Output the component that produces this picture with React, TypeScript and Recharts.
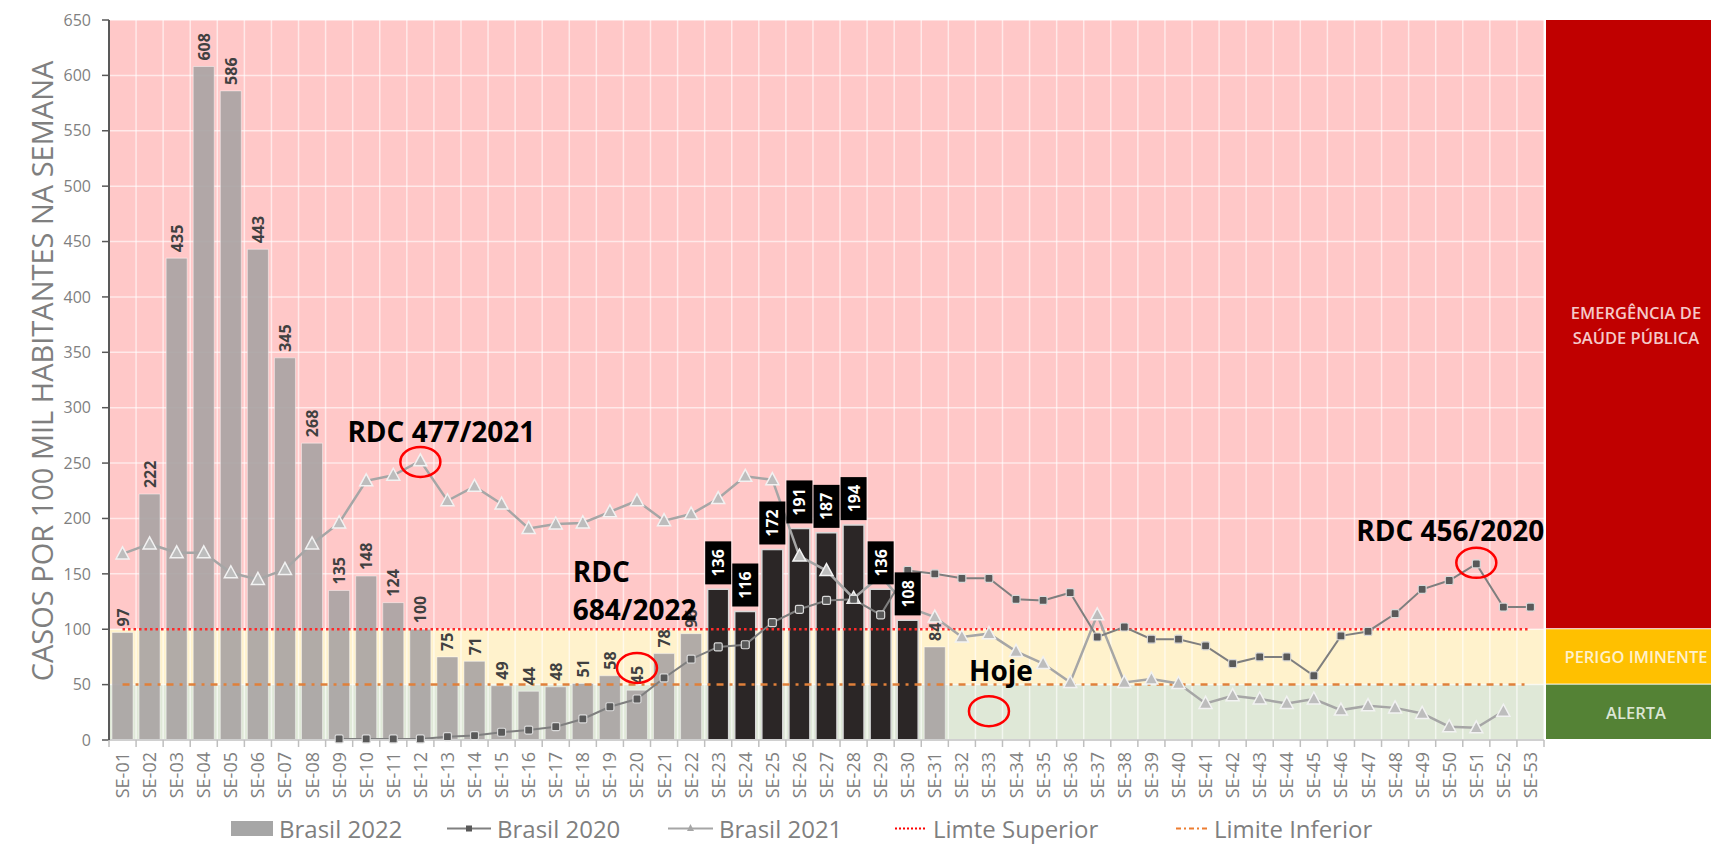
import {
  ComposedChart, Bar, Line, Scatter, XAxis, YAxis, CartesianGrid, ReferenceArea,
  ReferenceLine, ReferenceDot, Legend, Cell,
} from 'recharts';

const weeks = [
  'SE-01', 'SE-02', 'SE-03', 'SE-04', 'SE-05', 'SE-06', 'SE-07', 'SE-08', 'SE-09', 'SE-10',
  'SE-11', 'SE-12', 'SE-13', 'SE-14', 'SE-15', 'SE-16', 'SE-17', 'SE-18', 'SE-19', 'SE-20',
  'SE-21', 'SE-22', 'SE-23', 'SE-24', 'SE-25', 'SE-26', 'SE-27', 'SE-28', 'SE-29', 'SE-30',
  'SE-31', 'SE-32', 'SE-33', 'SE-34', 'SE-35', 'SE-36', 'SE-37', 'SE-38', 'SE-39', 'SE-40',
  'SE-41', 'SE-42', 'SE-43', 'SE-44', 'SE-45', 'SE-46', 'SE-47', 'SE-48', 'SE-49', 'SE-50',
  'SE-51', 'SE-52', 'SE-53',
];

const brasil2022 = [
  97, 222, 435, 608, 586, 443, 345, 268, 135, 148,
  124, 100, 75, 71, 49, 44, 48, 51, 58, 45,
  78, 96, 136, 116, 172, 191, 187, 194, 136, 108,
  84, null, null, null, null, null, null, null, null, null,
  null, null, null, null, null, null, null, null, null, null,
  null, null, null,
];

const brasil2020 = [
  null, null, null, null, null, null, null, null, 1, 1,
  1, 1, 3, 4, 7, 9, 12, 19, 30, 37,
  56, 73, 84, 86, 106, 118, 126, 127, 113, 153,
  150, 146, 146, 127, 126, 133, 93, 102, 91, 91,
  85, 69, 75, 75, 58, 94, 98, 114, 136, 144,
  159, 120, 120,
];

const brasil2021 = [
  168, 177, 169, 169, 151, 145, 154, 177, 196, 234,
  239, 252, 216, 229, 213, 191, 195, 196, 206, 216,
  198, 204, 218, 238, 235, 166, 153, 128, 148, 120,
  111, 93, 96, 80, 69, 52, 113, 52, 55, 51,
  33, 40, 37, 33, 37, 27, 31, 29, 24, 12,
  11, 26, null,
];

// semanas em destaque (barras escuras)
const destaque2022 = ['SE-23', 'SE-24', 'SE-25', 'SE-26', 'SE-27', 'SE-28', 'SE-29', 'SE-30'];

const LIMITE_SUPERIOR = 100;
const LIMITE_INFERIOR = 50;
const yTicks = [0, 50, 100, 150, 200, 250, 300, 350, 400, 450, 500, 550, 600, 650];

const data = weeks.map((week, i) => ({
  week,
  b2022: brasil2022[i],
  b2020: brasil2020[i],
  b2021: brasil2021[i],
}));

const FONT = "'Open Sans', 'Liberation Sans', sans-serif";

const zones = [
  { y1: 100, y2: 650, fill: '#ffc8c8', side: '#c00000', text: ['EMERGÊNCIA DE', 'SAÚDE PÚBLICA'], textFill: '#f5c9c9' },
  { y1: 50, y2: 100, fill: '#fff2cc', side: '#ffc000', text: ['PERIGO IMINENTE'], textFill: '#fff1cc' },
  { y1: 0, y2: 50, fill: '#dfe8d7', side: '#548235', text: ['ALERTA'], textFill: '#dce6d4' },
];

const circles = [
  { week: 'SE-12', y: 251 },
  { week: 'SE-20', y: 65 },
  { week: 'SE-33', y: 26 },
  { week: 'SE-51', y: 160 },
];

const notes = [
  { week: 'SE-12', y: 279, lines: ['RDC 477/2021'], dx: 21, anchor: 'middle' },
  { week: 'SE-18', y: 153, lines: ['RDC', '684/2022'], dx: -10, anchor: 'start' },
  { week: 'SE-33', y: 63, lines: ['Hoje'], dx: 12, anchor: 'middle' },
  { week: 'SE-50', y: 190, lines: ['RDC 456/2020'], dx: 1, anchor: 'middle' },
];

const zoneShape = (zone: any) => (p: any) => {
  const { x, y, width, height } = p;
  const sx = x + width + 2;
  const mid = y + height / 2;
  const n = zone.text.length;
  return (
    <g>
      <rect x={x} y={y} width={width} height={height} fill={zone.fill} />
      <rect x={sx} y={y} width={190} height={height - 1} fill={zone.side} />
      {zone.text.map((t: string, i: number) => (
        <text key={t} x={sx + 90} y={mid + (i - (n - 1) / 2) * 25} textAnchor="middle" dominantBaseline="central"
          fontFamily={FONT} fontSize={16.5} fontWeight={600} fill={zone.textFill}>{t}</text>
      ))}
    </g>
  );
};

const WeekTick = (p: any) => {
  const { x, y, payload, index } = p;
  const half = payload?.offset || 13.5;
  return (
    <g transform={`translate(${x},${y})`}>
      <line x1={-half} x2={-half} y1={-11} y2={-4} stroke="#bfbfbf" strokeWidth={1.5} />
      {index === weeks.length - 1 && <line x1={half} x2={half} y1={-11} y2={-4} stroke="#bfbfbf" strokeWidth={1.5} />}
      <text transform="rotate(-90)" x={-1} y={0} dy={6.5} textAnchor="end" fontFamily={FONT} fontSize={18} fill="#808080">
        {payload.value}
      </text>
    </g>
  );
};

const BarValueLabel = (p: any) => {
  const { cx, cy, payload } = p;
  const v = payload?.b2022;
  if (v == null || !Number.isFinite(cy)) return <g />;
  if (destaque2022.includes(payload.week)) {
    const by = cy - 5 - 43;
    return (
      <g>
        <rect x={cx - 13} y={by} width={26} height={43} fill="#000" />
        <text transform={`rotate(-90 ${cx} ${by + 21.5})`} x={cx} y={by + 21.5} textAnchor="middle" dominantBaseline="central"
          fontFamily={FONT} fontSize={16} fontWeight={700} fill="#fff">{v}</text>
      </g>
    );
  }
  const ty = cy - 6;
  return (
    <text transform={`rotate(-90 ${cx} ${ty})`} x={cx} y={ty} textAnchor="start" dominantBaseline="central"
      fontFamily={FONT} fontSize={16} fontWeight={700} fill="#404040">{v}</text>
  );
};

const SquareDot = (p: any) => {
  const { cx, cy, index } = p;
  if (!Number.isFinite(cy)) return <g key={index} />;
  return <rect key={index} x={cx - 4} y={cy - 4} width={8} height={8} rx={1.5} fill="#595959" stroke="#d9d9d9" strokeWidth={1.2} />;
};

const TriangleDot = (p: any) => {
  const { cx, cy, index } = p;
  if (!Number.isFinite(cy)) return <g key={index} />;
  return (
    <path key={index} d={`M${cx},${cy - 7} L${cx + 6.5},${cy + 5} L${cx - 6.5},${cy + 5} Z`}
      fill="#bdbdbd" stroke="#f2f2f2" strokeWidth={1.5} />
  );
};

const YLabel = (p: any) => {
  const vb = p.viewBox || { x: 0, y: 20, width: 109, height: 720 };
  const cx = vb.x + 41;
  const cy = vb.y + vb.height / 2 - 9;
  return (
    <text transform={`rotate(-90 ${cx} ${cy})`} x={cx} y={cy} textAnchor="middle" dominantBaseline="central"
      fontFamily={FONT} fontSize={29} fill="#7f7f7f">CASOS POR 100 MIL HABITANTES NA SEMANA</text>
  );
};

const legendItems = [
  { left: 231, label: 'Brasil 2022', icon: <rect x={0} y={1} width={42} height={15} fill="#a6a6a6" />, w: 42 },
  {
    left: 447, label: 'Brasil 2020', w: 44,
    icon: <g><line x1={0} x2={44} y1={8.5} y2={8.5} stroke="#808080" strokeWidth={2} /><rect x={19} y={5.5} width={6} height={6} fill="#595959" /></g>,
  },
  {
    left: 668, label: 'Brasil 2021', w: 45,
    icon: <g><line x1={0} x2={45} y1={8.5} y2={8.5} stroke="#a6a6a6" strokeWidth={2} /><path d="M22.5,4 L26,11 L19,11 Z" fill="#a6a6a6" /></g>,
  },
  { left: 895, label: 'Limte Superior', w: 32, icon: <line x1={0} x2={32} y1={8.5} y2={8.5} stroke="#ff0000" strokeWidth={2} strokeDasharray="2 2" /> },
  { left: 1176, label: 'Limite Inferior', w: 32, icon: <line x1={0} x2={32} y1={8.5} y2={8.5} stroke="#ed7d31" strokeWidth={2} strokeDasharray="5 3 2 3" /> },
];

const LegendContent = () => (
  <div style={{ position: 'relative', height: 36, width: 1711 }}>
    {legendItems.map((it) => (
      <div key={it.label} style={{ position: 'absolute', left: it.left, top: 2, height: 33, display: 'flex', alignItems: 'center' }}>
        <svg width={it.w} height={17} style={{ display: 'block' }}>{it.icon}</svg>
        <span style={{ marginLeft: 6, fontFamily: FONT, fontSize: 24, color: '#7f7f7f', lineHeight: '33px' }}>{it.label}</span>
      </div>
    ))}
  </div>
);

export default function App() {
  return (
    <div style={{ position: 'absolute', left: 0, top: 0, width: 1711, height: 846, background: '#fff', overflow: 'hidden' }}>
      <ComposedChart width={1711} height={846} data={data} barCategoryGap={3}
        margin={{ top: 20, right: 167, left: 0, bottom: 0 }}>
        {zones.map((z) => (
          <ReferenceArea key={z.side} y1={z.y1} y2={z.y2} zIndex={100} shape={zoneShape(z)} />
        ))}
        <CartesianGrid zIndex={150} stroke="#ffffff" strokeOpacity={0.6} strokeWidth={1.5}
          verticalCoordinatesGenerator={({ offset }: any) =>
            weeks.map((_, i) => offset.left + (i * offset.width) / weeks.length).concat([offset.left + offset.width])} />
        <XAxis dataKey="week" interval={0} height={70} tickSize={6} tickMargin={5} tickLine={false}
          axisLine={{ stroke: '#d0d0d0', strokeWidth: 2 }} tick={<WeekTick />} />
        <YAxis width={109} domain={[0, 650]} ticks={yTicks} interval={0} tickSize={7} tickMargin={11}
          axisLine={{ stroke: '#595959', strokeWidth: 2 }} tickLine={{ stroke: '#595959', strokeWidth: 1.5 }}
          tick={{ fontFamily: FONT, fontSize: 16, fill: '#7f7f7f' }} label={<YLabel />} />
        <Bar dataKey="b2022" name="Brasil 2022" isAnimationActive={false} zIndex={300}>
          {data.map((d) => destaque2022.includes(d.week)
            ? <Cell key={d.week} fill="#2b2626" stroke="#d9d9d9" strokeWidth={1.5} />
            : <Cell key={d.week} fill="#a8a3a3" fillOpacity={0.9} stroke="#ffffff" strokeOpacity={0.45} strokeWidth={1} />)}
        </Bar>
        <ReferenceLine zIndex={350} segment={[{ x: weeks[0], y: LIMITE_SUPERIOR }, { x: weeks[weeks.length - 1], y: LIMITE_SUPERIOR }]}
          stroke="#ff2a2a" strokeWidth={2.5} strokeDasharray="2.5 3" />
        <ReferenceLine zIndex={350} segment={[{ x: weeks[0], y: LIMITE_INFERIOR }, { x: weeks[weeks.length - 1], y: LIMITE_INFERIOR }]}
          stroke="#e0803a" strokeWidth={2.5} strokeDasharray="7 6 3 6" />
        <Line dataKey="b2021" name="Brasil 2021" stroke="#a6a6a6" strokeWidth={2.5} dot={<TriangleDot />}
          activeDot={false} isAnimationActive={false} zIndex={400} />
        <Line dataKey="b2020" name="Brasil 2020" stroke="#7f7f7f" strokeWidth={2} dot={<SquareDot />}
          activeDot={false} isAnimationActive={false} zIndex={410} />
        <Scatter dataKey="b2022" shape={<BarValueLabel />} isAnimationActive={false} zIndex={700} legendType="none" />
        {circles.map((c) => (
          <ReferenceDot key={c.week} x={c.week} y={c.y} zIndex={800}
            shape={(p: any) => <ellipse cx={p.cx} cy={p.cy} rx={20} ry={15} fill="none" stroke="#ff0000" strokeWidth={2.5} />} />
        ))}
        {notes.map((n) => (
          <ReferenceDot key={n.lines[0] + n.week} x={n.week} y={n.y} zIndex={800}
            shape={(p: any) => (
              <text x={p.cx + n.dx} y={p.cy} textAnchor={n.anchor as any} fontFamily={FONT} fontSize={28} fontWeight={700} fill="#000">
                {n.lines.map((l, i) => (
                  <tspan key={l} x={p.cx + n.dx} y={p.cy + i * 38} dominantBaseline="central">{l}</tspan>
                ))}
              </text>
            )} />
        ))}
        <Legend verticalAlign="bottom" align="left" content={() => <LegendContent />} wrapperStyle={{ left: 0, bottom: 0, width: 1711 }} />
      </ComposedChart>
    </div>
  );
}
